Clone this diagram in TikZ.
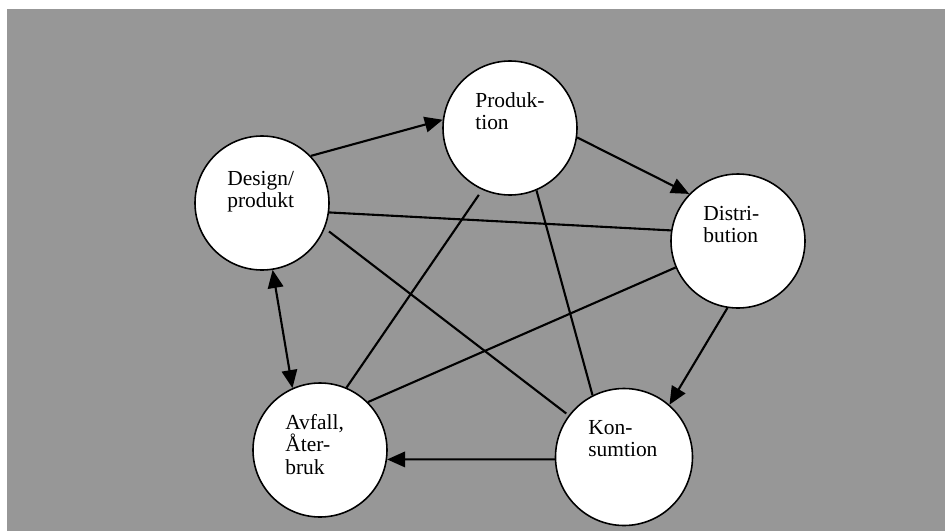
\documentclass[tikz,border=0pt]{standalone}
\usepackage{fontspec}
\setmainfont{Liberation Serif}
\usepackage{xcolor}
\usepackage{tikz}
\usetikzlibrary{arrows.meta}
\definecolor{bggray}{RGB}{151, 151, 151}
\tikzstyle{stage} = [circle, draw=black, fill=white, minimum size=2.68cm, inner sep=0pt, line width=0.9pt]
\tikzstyle{stagetext} = [anchor=base west, align=left, inner sep=0pt, font=\fontsize{12.2}{12.8}\selectfont]
\tikzstyle{arrow} = [-{Triangle[length=3.6mm, width=3.1mm]}, line width=1.2pt]
\tikzstyle{twoway} = [{Triangle[length=3.6mm, width=3.1mm]}-{Triangle[length=3.6mm, width=3.1mm]}, line width=1.2pt]
\tikzstyle{link} = [line width=1.2pt]
\begin{document}
\begin{tikzpicture}
    % Background
    \useasboundingbox (0, 0) rectangle (18.9, -10.62);
    \fill[bggray] (0.14, -0.18) rectangle (18.9, -10.62);

    % Stages
    \node[stage] (design) at (5.24, -4.06) {};
    \node[stage] (prod) at (10.20, -2.56) {};
    \node[stage] (dist) at (14.76, -4.82) {};
    \node[stage] (avfall) at (6.40, -9.00) {};
    \node[stage, minimum size=2.74cm] (kons) at (12.48, -9.14) {};

    % Labels (anchored at the last line)
    \node[stagetext] (designtxt) at ([xshift=-0.7cm, yshift=-0.09cm]design.center) {Design/\\produkt};
    \node[stagetext] (prodtxt) at ([xshift=-0.7cm, yshift=-0.03cm]prod.center) {Produk-\\tion};
    \node[stagetext] (disttxt) at ([xshift=-0.7cm, yshift=-0.03cm]dist.center) {Distri-\\bution};
    \node[stagetext] (avfalltxt) at ([xshift=-0.7cm, yshift=-0.48cm]avfall.center) {Avfall,\\Åter-\\bruk};
    \node[stagetext] (konstxt) at ([xshift=-0.72cm, yshift=0.01cm]kons.center) {Kon-\\sumtion};

    % Cycle
    \draw[arrow] (design.44) -- (prod.173);
    \draw[arrow] (prod.-8) -- (dist.136);
    \draw[arrow] (dist.-99) -- (kons.49);
    \draw[arrow] (kons.182) -- (avfall.-8);
    \draw[twoway] (design.-81) -- (avfall.114);

    % Cross links
    \draw[link] (design.-8) -- (dist.171);
    \draw[link] ([shift={(-23:0.1)}]design.-23) -- ([shift={(143:0.06)}]kons.143);
    \draw[link] ([shift={(-115:0.12)}]prod.-115) -- (avfall.67);
    \draw[link] (prod.-67) -- (kons.117);
    \draw[link] (dist.-157) -- (avfall.45);
\end{tikzpicture}
\end{document}
